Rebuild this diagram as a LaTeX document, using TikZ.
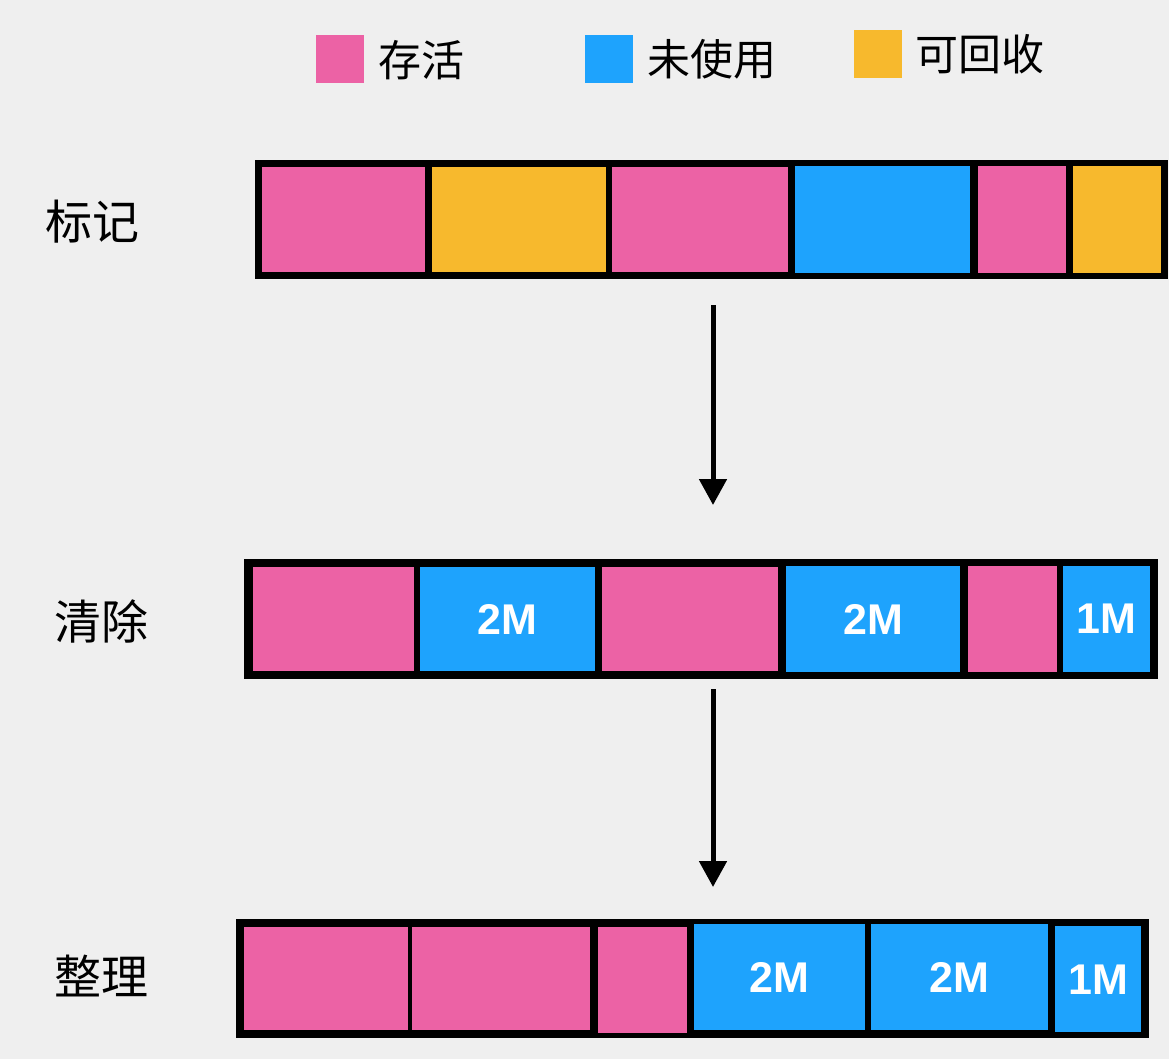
\documentclass[tikz,border=0pt]{standalone}
\usepackage{fontspec}
\setmainfont{Liberation Sans}
\newfontfamily\cjk{Noto Sans CJK SC}
\usetikzlibrary{arrows.meta}

\definecolor{alive}{HTML}{EC62A5}
\definecolor{unused}{HTML}{1EA3FD}
\definecolor{garbage}{HTML}{F7B92D}
\definecolor{paper}{HTML}{EFEFEF}

\tikzset{
  bar/.style={fill=black, inner sep=0pt, anchor=north west},
  cell/.style={inner sep=0pt, anchor=north west, text=white,
    font=\fontsize{43}{43}\selectfont\bfseries},
  key/.style={inner sep=0pt, minimum width=48pt, minimum height=48pt, anchor=north west},
  stage/.style={font=\cjk\fontsize{47}{47}\selectfont},
  keytext/.style={font=\cjk\fontsize{43}{43}\selectfont, anchor=west, inner sep=0pt},
  flow/.style={line width=5pt, -{Triangle[width=27pt,length=26pt]}}
}

\begin{document}
\begin{tikzpicture}[x=1pt, y=-1pt]

% 背景
\fill[paper] (0,0) rectangle (1169,1059);
\useasboundingbox (0,0) rectangle (1169,1059);

%========================
% 凡例
%========================
\node[key, fill=alive] (kalive) at (316,35) {};
\node[keytext] (talive) at (378,60) {存活};
\node[key, fill=unused] (kunused) at (585,35) {};
\node[keytext] (tunused) at (647,59) {未使用};
\node[key, fill=garbage] (kgarbage) at (854,30) {};
\node[keytext] (tgarbage) at (915,54) {可回收};

%========================
% 标记
%========================
\node[stage] (lmark) at (92,222) {标记};
\node[bar, minimum width=913pt, minimum height=119pt] (markbar) at (255,160) {};
\node[cell, fill=alive,   minimum width=163pt, minimum height=105pt] (m1) at (262,167) {};
\node[cell, fill=garbage, minimum width=174pt, minimum height=105pt] (m2) at (432,167) {};
\node[cell, fill=alive,   minimum width=176pt, minimum height=105pt] (m3) at (612,167) {};
\node[cell, fill=unused,  minimum width=175pt, minimum height=107pt] (m4) at (795,166) {};
\node[cell, fill=alive,   minimum width=88pt,  minimum height=107pt] (m5) at (978,166) {};
\node[cell, fill=garbage, minimum width=88pt,  minimum height=107pt] (m6) at (1073,166) {};

%========================
% 清除
%========================
\node[stage] (lclean) at (101,621) {清除};
\node[bar, minimum width=914pt, minimum height=120pt] (cleanbar) at (244,559) {};
\node[cell, fill=alive,  minimum width=161pt, minimum height=104pt] (c1) at (253,567) {};
\node[cell, fill=unused, minimum width=175pt, minimum height=104pt] (c2) at (420,567) {2M};
\node[cell, fill=alive,  minimum width=176pt, minimum height=104pt] (c3) at (602,567) {};
\node[cell, fill=unused, minimum width=174pt, minimum height=106pt] (c4) at (786,566) {2M};
\node[cell, fill=alive,  minimum width=89pt,  minimum height=106pt] (c5) at (968,566) {};
\node[cell, fill=unused, minimum width=87pt,  minimum height=106pt] (c6) at (1063,566) {1M};

%========================
% 整理
%========================
\node[stage] (lcompact) at (101,976) {整理};
\node[bar, minimum width=913pt, minimum height=119pt] (compactbar) at (236,919) {};
\node[cell, fill=alive,  minimum width=164pt, minimum height=103pt] (p1) at (244,927) {};
\node[cell, fill=alive,  minimum width=178pt, minimum height=103pt] (p2) at (412,927) {};
\node[cell, fill=alive,  minimum width=89pt,  minimum height=106pt] (p3) at (598,927) {};
\node[cell, fill=unused, minimum width=171pt, minimum height=106pt] (p4) at (694,924) {2M};
\node[cell, fill=unused, minimum width=177pt, minimum height=106pt] (p5) at (871,924) {2M};
\node[cell, fill=unused, minimum width=86pt,  minimum height=106pt] (p6) at (1055,926) {1M};

%========================
% 矢印
%========================
\coordinate (axis) at (713,0);
\draw[flow] ([yshift=-26pt]markbar.south -| axis) -- ([yshift=54pt]cleanbar.north -| axis);
\draw[flow] ([yshift=-10pt]cleanbar.south -| axis) -- ([yshift=32pt]compactbar.north -| axis);

\end{tikzpicture}
\end{document}
